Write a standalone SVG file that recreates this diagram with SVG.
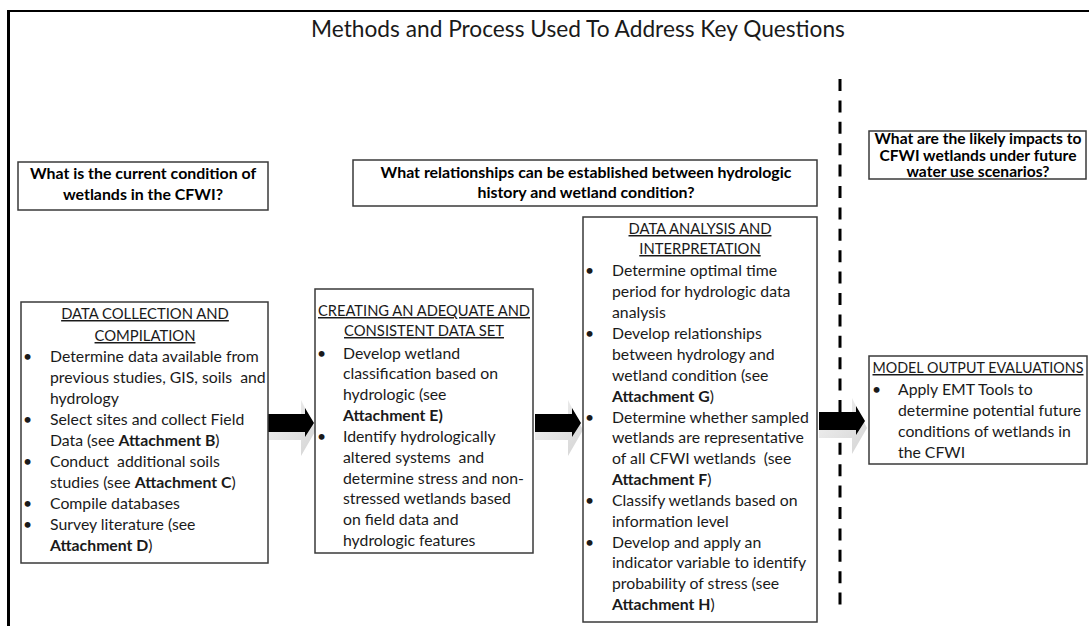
<svg xmlns="http://www.w3.org/2000/svg" width="1089" height="626" viewBox="0 0 1089 626">
<style>
  text { font-family: Lato, "Liberation Sans", sans-serif; fill: #1a1a1a; white-space: pre; }
  .t { font-size: 15.8px; }
  .hd { font-size: 14.8px; text-anchor: middle; text-decoration: underline; }
  .q { font-size: 15.9px; font-weight: bold; text-anchor: middle; fill: #000; }
  .q3 { font-size: 15.6px; }
  .b { font-weight: bold; }
  .box { fill: #fff; stroke: #3a3a3a; stroke-width: 1.5; }
  .title { font-size: 22.7px; text-anchor: middle; }
</style>
<defs>
  <linearGradient id="sh" x1="0" y1="0" x2="1" y2="1">
    <stop offset="0" stop-color="#f4f4f4"/>
    <stop offset="1" stop-color="#d4d4d4"/>
  </linearGradient>
  <g id="arrow">
    <path d="M0,-5 H33 V-23 L48,7 L33,33 V17 H0 Z" fill="url(#sh)"/>
    <path d="M0,-9 H37 V-15 L46,0 L37,14 V9 H0 Z" fill="#000"/>
  </g>
</defs>

<g id="frame">
  <line x1="7" y1="11" x2="1089" y2="11" stroke="#000" stroke-width="2"/>
  <line x1="8.5" y1="10" x2="8.5" y2="626" stroke="#000" stroke-width="3"/>
  <line x1="840" y1="79" x2="840" y2="612" stroke="#000" stroke-width="3" stroke-dasharray="12 9.4"/>
</g>

<text class="title" x="578" y="37">Methods and Process Used To Address Key Questions</text>

<g id="q1">
  <rect class="box" x="18" y="162" width="250" height="48"/>
  <text class="q" x="143" y="179">What is the current condition of</text>
  <text class="q" x="143" y="200">wetlands in the CFWI?</text>
</g>
<g id="q2">
  <rect class="box" x="353" y="160" width="464" height="46"/>
  <text class="q" x="586" y="178">What relationships can be established between hydrologic</text>
  <text class="q" x="586" y="198">history and wetland condition?</text>
</g>
<g id="q3">
  <rect class="box" x="869" y="131" width="217" height="48"/>
  <text class="q q3" x="978" y="144">What are the likely impacts to</text>
  <text class="q q3" x="978" y="160.5">CFWI wetlands under future</text>
  <text class="q q3" x="978" y="177">water use scenarios?</text>
</g>

<g id="connectors">
  <use href="#arrow" x="268" y="423"/>
  <use href="#arrow" x="535" y="423"/>
  <use href="#arrow" x="819" y="421"/>
</g>

<g id="boxA">
  <rect class="box" x="21" y="302" width="247" height="261"/>
  <text class="hd" x="145" y="319">DATA COLLECTION AND</text>
  <text class="hd" x="145" y="341">COMPILATION</text>
  <text class="t" x="23" y="362">•</text><text class="t" x="50" y="362">Determine data available from</text>
  <text class="t" x="50" y="383">previous studies, GIS, soils  and</text>
  <text class="t" x="50" y="404">hydrology</text>
  <text class="t" x="23" y="425">•</text><text class="t" x="50" y="425">Select sites and collect Field</text>
  <text class="t" x="50" y="446">Data (see <tspan class="b">Attachment B</tspan>)</text>
  <text class="t" x="23" y="467">•</text><text class="t" x="50" y="467">Conduct  additional soils</text>
  <text class="t" x="50" y="488">studies (see <tspan class="b">Attachment C</tspan>)</text>
  <text class="t" x="23" y="509">•</text><text class="t" x="50" y="509">Compile databases</text>
  <text class="t" x="23" y="530">•</text><text class="t" x="50" y="530">Survey literature (see</text>
  <text class="t" x="50" y="551"><tspan class="b">Attachment D</tspan>)</text>
</g>

<g id="boxB">
  <rect class="box" x="315" y="289" width="218" height="264"/>
  <text class="hd" x="424" y="316" textLength="212" lengthAdjust="spacingAndGlyphs">CREATING AN ADEQUATE AND</text>
  <text class="hd" x="424" y="336">CONSISTENT DATA SET</text>
  <text class="t" x="317" y="359">•</text><text class="t" x="343" y="359">Develop wetland</text>
  <text class="t" x="343" y="379">classification based on</text>
  <text class="t" x="343" y="400">hydrologic (see</text>
  <text class="t b" x="343" y="421">Attachment E)</text>
  <text class="t" x="317" y="442">•</text><text class="t" x="343" y="442">Identify hydrologically</text>
  <text class="t" x="343" y="463">altered systems  and</text>
  <text class="t" x="343" y="484">determine stress and non-</text>
  <text class="t" x="343" y="504">stressed wetlands based</text>
  <text class="t" x="343" y="525">on field data and</text>
  <text class="t" x="343" y="546">hydrologic features</text>
</g>

<g id="boxC">
  <rect class="box" x="583" y="217" width="234" height="405"/>
  <text class="hd" x="700" y="234">DATA ANALYSIS AND</text>
  <text class="hd" x="700" y="254">INTERPRETATION</text>
  <text class="t" x="585" y="276">•</text><text class="t" x="612" y="276">Determine optimal time</text>
  <text class="t" x="612" y="297">period for hydrologic data</text>
  <text class="t" x="612" y="318">analysis</text>
  <text class="t" x="585" y="339">•</text><text class="t" x="612" y="339">Develop relationships</text>
  <text class="t" x="612" y="360">between hydrology and</text>
  <text class="t" x="612" y="381">wetland condition (see</text>
  <text class="t" x="612" y="402"><tspan class="b">Attachment G</tspan>)</text>
  <text class="t" x="585" y="423">•</text><text class="t" x="612" y="423">Determine whether sampled</text>
  <text class="t" x="612" y="443">wetlands are representative</text>
  <text class="t" x="612" y="464">of all CFWI wetlands  (see</text>
  <text class="t" x="612" y="485"><tspan class="b">Attachment F</tspan>)</text>
  <text class="t" x="585" y="506">•</text><text class="t" x="612" y="506">Classify wetlands based on</text>
  <text class="t" x="612" y="527">information level</text>
  <text class="t" x="585" y="548">•</text><text class="t" x="612" y="548">Develop and apply an</text>
  <text class="t" x="612" y="568">indicator variable to identify</text>
  <text class="t" x="612" y="589">probability of stress (see</text>
  <text class="t" x="612" y="610"><tspan class="b">Attachment H</tspan>)</text>
</g>

<g id="boxD">
  <rect class="box" x="869" y="356" width="218" height="108"/>
  <text class="hd" x="978" y="373" textLength="211" lengthAdjust="spacingAndGlyphs">MODEL OUTPUT EVALUATIONS</text>
  <text class="t" x="872" y="395">•</text><text class="t" x="898" y="395">Apply EMT Tools to</text>
  <text class="t" x="898" y="416">determine potential future</text>
  <text class="t" x="898" y="437">conditions of wetlands in</text>
  <text class="t" x="898" y="458">the CFWI</text>
</g>
</svg>
